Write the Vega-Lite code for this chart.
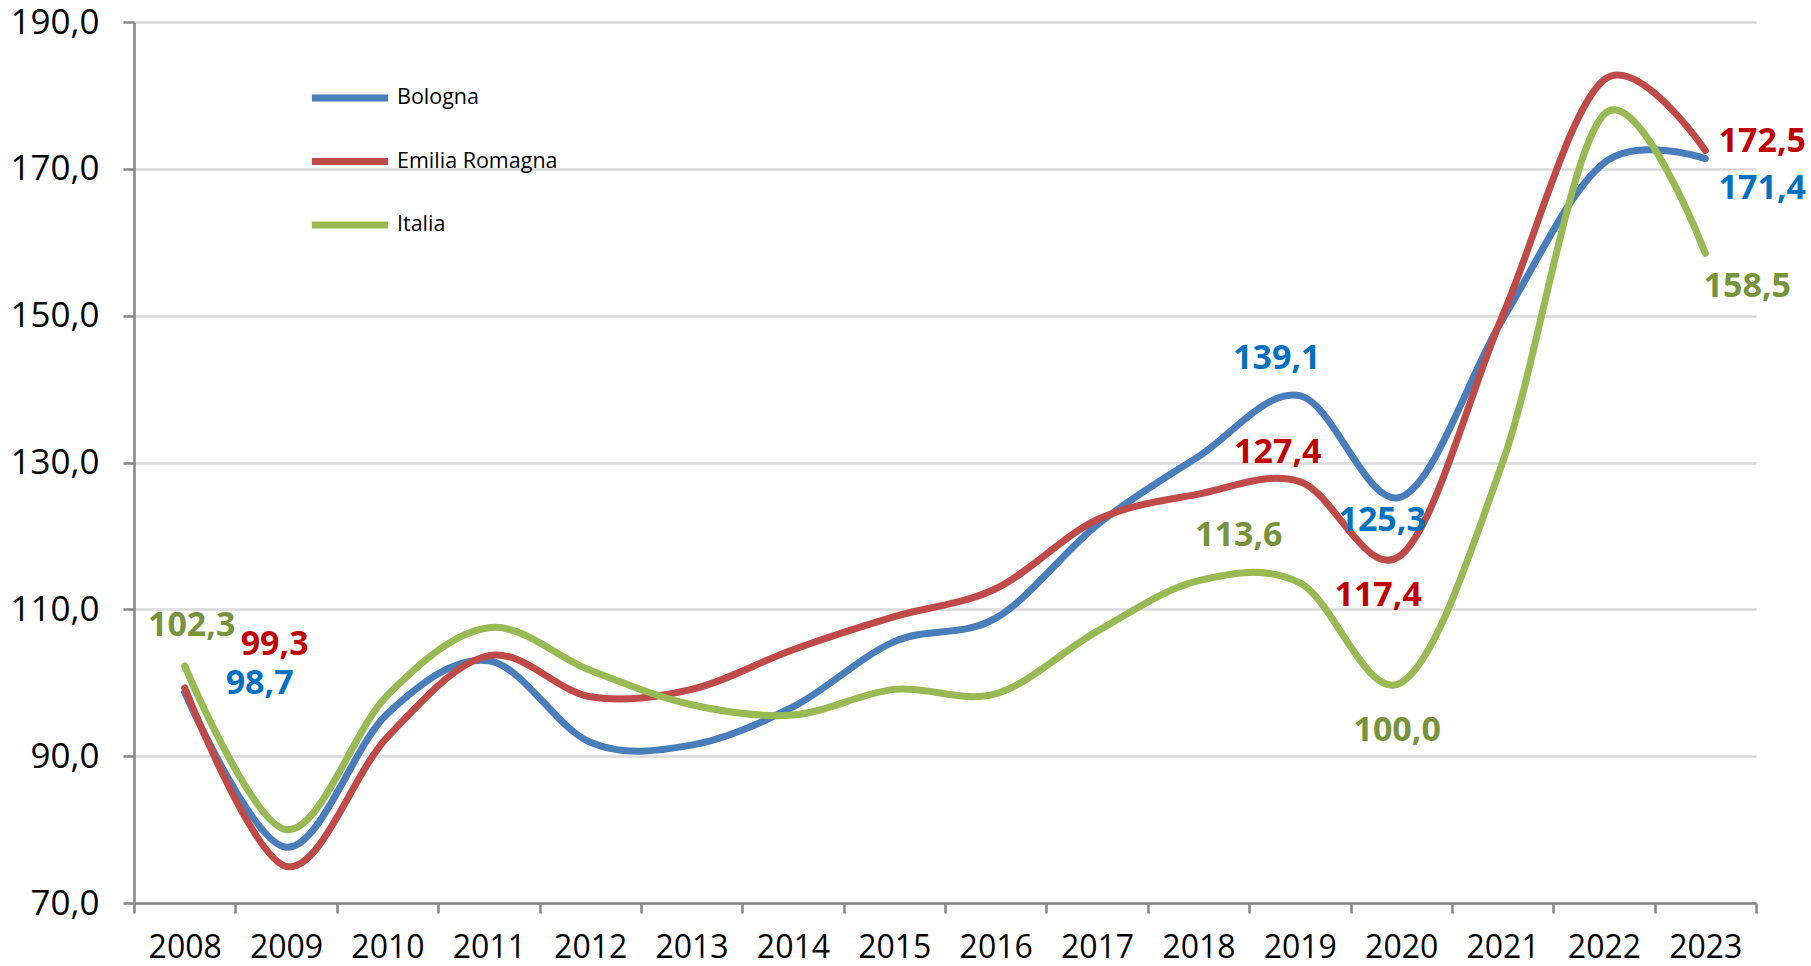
{
  "$schema": "https://vega.github.io/schema/vega-lite/v6.json",
  "width": 1622,
  "height": 881,
  "autosize": {"type": "none"},
  "padding": {"left": 134, "top": 22, "right": 55, "bottom": 63},
  "background": "white",
  "config": {
    "locale": {"number": {"decimal": ",", "thousands": ".", "grouping": [3], "currency": ["", " €"]}},
    "view": {"stroke": null},
    "font": "Open Sans",
    "text": {"font": "Open Sans", "fontWeight": "bold", "fontSize": 34, "align": "center", "baseline": "middle"}
  },
  "data": {
    "values": [
      {"year": "2008", "series": "Bologna", "value": 98.7},
      {"year": "2009", "series": "Bologna", "value": 77.6},
      {"year": "2010", "series": "Bologna", "value": 95.8},
      {"year": "2011", "series": "Bologna", "value": 103.0},
      {"year": "2012", "series": "Bologna", "value": 91.9},
      {"year": "2013", "series": "Bologna", "value": 91.5},
      {"year": "2014", "series": "Bologna", "value": 96.7},
      {"year": "2015", "series": "Bologna", "value": 105.6},
      {"year": "2016", "series": "Bologna", "value": 108.8},
      {"year": "2017", "series": "Bologna", "value": 121.5},
      {"year": "2018", "series": "Bologna", "value": 130.8},
      {"year": "2019", "series": "Bologna", "value": 139.1},
      {"year": "2020", "series": "Bologna", "value": 125.3},
      {"year": "2021", "series": "Bologna", "value": 149.5},
      {"year": "2022", "series": "Bologna", "value": 170.8},
      {"year": "2023", "series": "Bologna", "value": 171.4},
      {"year": "2008", "series": "Emilia Romagna", "value": 99.3},
      {"year": "2009", "series": "Emilia Romagna", "value": 75.0},
      {"year": "2010", "series": "Emilia Romagna", "value": 92.6},
      {"year": "2011", "series": "Emilia Romagna", "value": 103.7},
      {"year": "2012", "series": "Emilia Romagna", "value": 98.1},
      {"year": "2013", "series": "Emilia Romagna", "value": 99.1},
      {"year": "2014", "series": "Emilia Romagna", "value": 104.5},
      {"year": "2015", "series": "Emilia Romagna", "value": 109.0},
      {"year": "2016", "series": "Emilia Romagna", "value": 112.8},
      {"year": "2017", "series": "Emilia Romagna", "value": 122.2},
      {"year": "2018", "series": "Emilia Romagna", "value": 125.7},
      {"year": "2019", "series": "Emilia Romagna", "value": 127.4},
      {"year": "2020", "series": "Emilia Romagna", "value": 117.4},
      {"year": "2021", "series": "Emilia Romagna", "value": 150.0},
      {"year": "2022", "series": "Emilia Romagna", "value": 182.1},
      {"year": "2023", "series": "Emilia Romagna", "value": 172.5},
      {"year": "2008", "series": "Italia", "value": 102.3},
      {"year": "2009", "series": "Italia", "value": 80.0},
      {"year": "2010", "series": "Italia", "value": 98.3},
      {"year": "2011", "series": "Italia", "value": 107.5},
      {"year": "2012", "series": "Italia", "value": 101.7},
      {"year": "2013", "series": "Italia", "value": 97.0},
      {"year": "2014", "series": "Italia", "value": 95.6},
      {"year": "2015", "series": "Italia", "value": 99.1},
      {"year": "2016", "series": "Italia", "value": 98.5},
      {"year": "2017", "series": "Italia", "value": 107.0},
      {"year": "2018", "series": "Italia", "value": 113.9},
      {"year": "2019", "series": "Italia", "value": 113.6},
      {"year": "2020", "series": "Italia", "value": 100.0},
      {"year": "2021", "series": "Italia", "value": 130.0},
      {"year": "2022", "series": "Italia", "value": 177.4},
      {"year": "2023", "series": "Italia", "value": 158.5}
    ]
  },
  "encoding": {
    "x": {
      "field": "year", "type": "ordinal",
      "scale": {"type": "band", "paddingInner": 0, "paddingOuter": 0},
      "axis": {
        "title": null, "labelAngle": 0, "tickBand": "extent", "grid": false,
        "tickSize": 10, "tickWidth": 2.5, "tickColor": "#868686",
        "domainColor": "#868686", "domainWidth": 2.5,
        "labelFont": "Open Sans", "labelFontSize": 32, "labelColor": "#000000", "labelPadding": 19
      }
    },
    "y": {
      "field": "value", "type": "quantitative",
      "scale": {"domain": [70, 190], "nice": false, "zero": false},
      "axis": {
        "title": null, "values": [70, 90, 110, 130, 150, 170, 190], "format": ".1f",
        "tickSize": 11, "tickWidth": 2.5, "tickColor": "#868686",
        "domainColor": "#868686", "domainWidth": 2.5,
        "gridColor": "#D9D9D9", "gridWidth": 2.5,
        "labelFont": "Open Sans", "labelFontSize": 35, "labelColor": "#000000", "labelPadding": 24
      }
    }
  },
  "layer": [
    {
      "mark": {"type": "line", "interpolate": "cardinal", "tension": 0, "strokeWidth": 7, "strokeCap": "round", "strokeJoin": "round"},
      "encoding": {
        "color": {
          "field": "series", "type": "nominal",
          "scale": {"domain": ["Bologna", "Emilia Romagna", "Italia"], "range": ["#4A7EBB", "#BE4B48", "#98B954"]},
          "legend": {
            "title": null, "orient": "none", "legendX": 174, "legendY": 34,
            "symbolType": "stroke", "symbolSize": 5800, "symbolStrokeWidth": 7,
            "labelFont": "Open Sans", "labelFontSize": 21.5, "labelColor": "#000000", "labelLimit": 400,
            "rowPadding": 7.5, "labelOffset": 5
          }
        }
      }
    },
    {"transform": [{"filter": "datum.series == 'Italia' && datum.year == '2008'"}], "mark": {"type": "text", "dx": 7, "dy": -40, "color": "#77933C"}, "encoding": {"text": {"field": "value", "format": ".1f"}}},
    {"transform": [{"filter": "datum.series == 'Emilia Romagna' && datum.year == '2008'"}], "mark": {"type": "text", "dx": 90, "dy": -43, "color": "#C00000"}, "encoding": {"text": {"field": "value", "format": ".1f"}}},
    {"transform": [{"filter": "datum.series == 'Bologna' && datum.year == '2008'"}], "mark": {"type": "text", "dx": 75, "dy": -8, "color": "#0070C0"}, "encoding": {"text": {"field": "value", "format": ".1f"}}},
    {"transform": [{"filter": "datum.series == 'Bologna' && datum.year == '2019'"}], "mark": {"type": "text", "dx": -23, "dy": -37, "color": "#0070C0"}, "encoding": {"text": {"field": "value", "format": ".1f"}}},
    {"transform": [{"filter": "datum.series == 'Emilia Romagna' && datum.year == '2019'"}], "mark": {"type": "text", "dx": -22, "dy": -29, "color": "#C00000"}, "encoding": {"text": {"field": "value", "format": ".1f"}}},
    {"transform": [{"filter": "datum.series == 'Italia' && datum.year == '2019'"}], "mark": {"type": "text", "dx": -61, "dy": -47, "color": "#77933C"}, "encoding": {"text": {"field": "value", "format": ".1f"}}},
    {"transform": [{"filter": "datum.series == 'Bologna' && datum.year == '2020'"}], "mark": {"type": "text", "dx": -19, "dy": 24, "color": "#0070C0"}, "encoding": {"text": {"field": "value", "format": ".1f"}}},
    {"transform": [{"filter": "datum.series == 'Emilia Romagna' && datum.year == '2020'"}], "mark": {"type": "text", "dx": -23, "dy": 41, "color": "#C00000"}, "encoding": {"text": {"field": "value", "format": ".1f"}}},
    {"transform": [{"filter": "datum.series == 'Italia' && datum.year == '2020'"}], "mark": {"type": "text", "dx": -4, "dy": 48, "color": "#77933C"}, "encoding": {"text": {"field": "value", "format": ".1f"}}},
    {"transform": [{"filter": "datum.series == 'Emilia Romagna' && datum.year == '2023'"}], "mark": {"type": "text", "dx": 57, "dy": -8, "color": "#C00000"}, "encoding": {"text": {"field": "value", "format": ".1f"}}},
    {"transform": [{"filter": "datum.series == 'Bologna' && datum.year == '2023'"}], "mark": {"type": "text", "dx": 57, "dy": 30, "color": "#0070C0"}, "encoding": {"text": {"field": "value", "format": ".1f"}}},
    {"transform": [{"filter": "datum.series == 'Italia' && datum.year == '2023'"}], "mark": {"type": "text", "dx": 42, "dy": 34, "color": "#77933C"}, "encoding": {"text": {"field": "value", "format": ".1f"}}}
  ]
}
